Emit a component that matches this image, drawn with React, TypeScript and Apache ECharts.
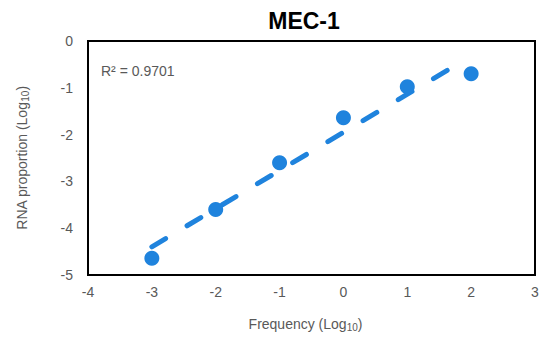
import React, { useEffect, useRef } from "react";
import * as echarts from "echarts";

const xValues = [-3, -2, -1, 0, 1, 2];
const yValues = [-4.64, -3.6, -2.6, -1.64, -0.98, -0.7];
const trendStartX = -3;
const trendEndX = 1.78;
const titleText = "MEC-1";
const r2Text = "R² = 0.9701";

function regression(xs: number[], ys: number[]) {
  const n = xs.length;
  const mx = xs.reduce((a, b) => a + b, 0) / n;
  const my = ys.reduce((a, b) => a + b, 0) / n;
  let sxy = 0, sxx = 0;
  for (let i = 0; i < n; i++) {
    sxy += (xs[i] - mx) * (ys[i] - my);
    sxx += (xs[i] - mx) * (xs[i] - mx);
  }
  const slope = sxy / sxx;
  return { slope, intercept: my - slope * mx };
}

export default function App() {
  const ref = useRef<HTMLDivElement>(null);
  useEffect(() => {
    if (!ref.current) return;
    document.body.style.margin = "0";
    const chart = echarts.init(ref.current, null, { renderer: "svg" });
    const { slope, intercept } = regression(xValues, yValues);
    const trend = [trendStartX, trendEndX].map((x) => [x, slope * x + intercept]);
    const blue = "#1f83dd";
    const gray = "#595959";
    const font = "Liberation Sans, Arial, sans-serif";
    chart.setOption({
      animation: false,
      title: {
        text: titleText,
        left: 299,
        top: 4,
        textAlign: "center",
        textStyle: { fontFamily: font, fontWeight: "bold", fontSize: 23, color: "#000" },
      },
      grid: {
        left: 88,
        right: 9,
        top: 41,
        bottom: 62,
        show: true,
        borderColor: "#000",
        borderWidth: 2,
      },
      xAxis: {
        type: "value",
        min: -4,
        max: 3,
        interval: 1,
        axisLine: { show: false },
        axisTick: { show: false },
        splitLine: { show: false },
        axisLabel: { color: gray, fontSize: 14, fontFamily: font, margin: 10 },
        name: "{a|Frequency (Log}{s|10}{a|)}",
        nameLocation: "middle",
        nameGap: 40,
        nameTextStyle: {
          padding: [0, 12, 0, 0],
          rich: {
            a: { fontSize: 14, color: gray, fontFamily: font },
            s: { fontSize: 10, color: gray, fontFamily: font, verticalAlign: "bottom", padding: [7, 0, 0, 0] },
          },
        },
      },
      yAxis: {
        type: "value",
        min: -5,
        max: 0,
        interval: 1,
        axisLine: { show: false },
        axisTick: { show: false },
        splitLine: { show: false },
        axisLabel: { color: gray, fontSize: 14, fontFamily: font, margin: 15 },
        name: "{a|RNA proportion (Log}{s|10}{a|)}",
        nameLocation: "middle",
        nameGap: 58,
        nameTextStyle: {
          rich: {
            a: { fontSize: 14, color: gray, fontFamily: font },
            s: { fontSize: 10, color: gray, fontFamily: font, verticalAlign: "bottom", padding: [7, 0, 0, 0] },
          },
        },
      },
      graphic: [
        {
          type: "text",
          left: 101,
          top: 64,
          style: { text: r2Text, fill: gray, fontSize: 14, fontFamily: font },
        },
      ],
      series: [
        {
          type: "scatter",
          data: xValues.map((x, i) => [x, yValues[i]]),
          symbolSize: 15,
          itemStyle: { color: blue, opacity: 1 },
          z: 3,
        },
        {
          type: "line",
          data: trend,
          symbol: "none",
          lineStyle: { color: blue, width: 5, type: [16, 25], cap: "round" },
          z: 2,
        },
      ],
    });
    return () => chart.dispose();
  }, []);
  return <div ref={ref} style={{ width: 544, height: 337 }} />;
}
